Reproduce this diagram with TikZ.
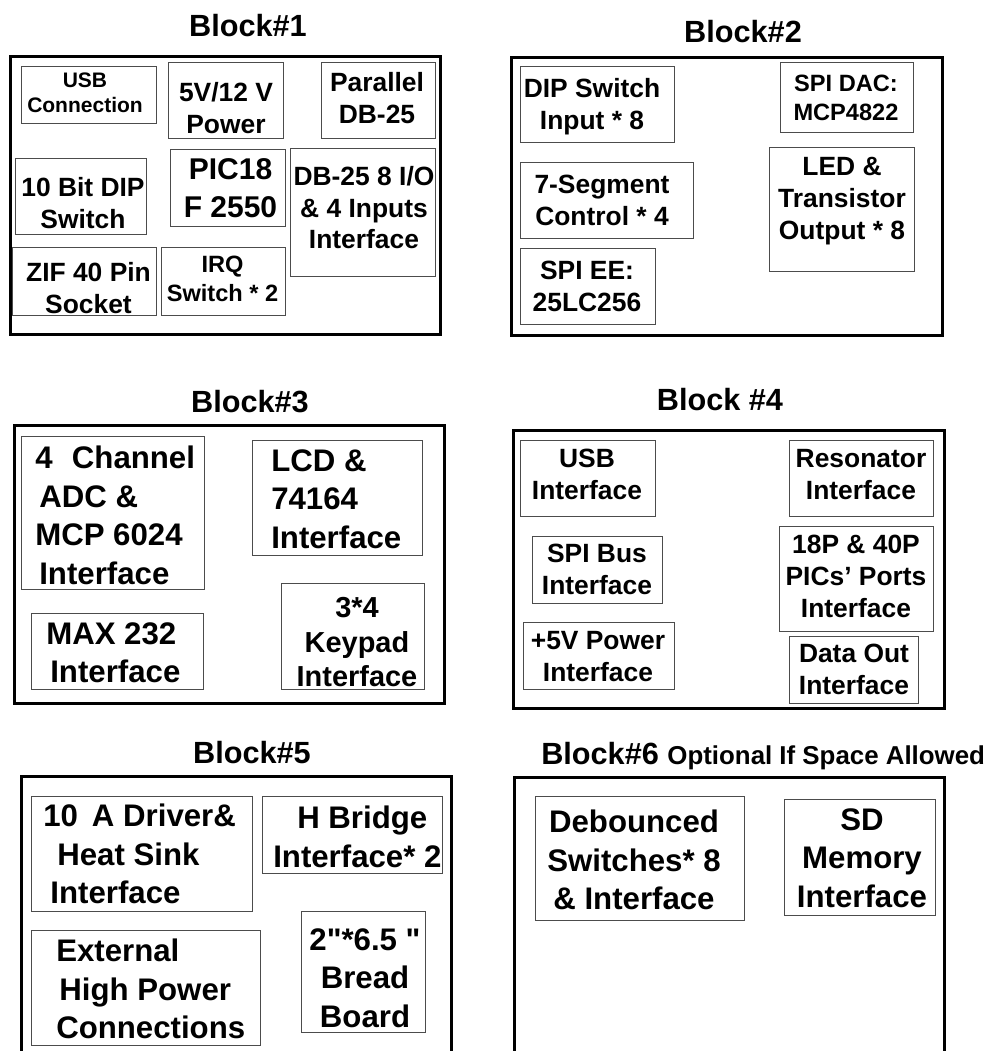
\documentclass[tikz,border=0pt]{standalone}
\usepackage{fontspec}
\setmainfont{Liberation Sans}[Ligatures=TeXOff]
\usetikzlibrary{fit}

\newcommand\partfontstd{\fontsize{19.8}{23.8}\selectfont\bfseries}
\newcommand\partfontbig{\fontsize{23.4}{28.9}\selectfont\bfseries}
\newcommand\partfontpic{\fontsize{22.5}{28.5}\selectfont\bfseries}
\newcommand\partfontsmall{\fontsize{17.7}{21.5}\selectfont\bfseries}
\newcommand\partfontusb{\fontsize{15.75}{18.75}\selectfont\bfseries}
\newcommand\partfontkey{\fontsize{21.7}{26}\selectfont\bfseries}

\tikzset{
  blockbox/.style={draw=black, line width=2.25pt, inner sep=0pt},
  partbox/.style={draw=black!70, line width=0.75pt, inner sep=0pt},
  parttext/.style={font=\partfontstd, align=center, inner sep=0pt, anchor=north},
  lefttext/.style={font=\partfontbig, align=left, inner sep=0pt, anchor=north west},
  blocktitle/.style={font=\fontsize{23}{27}\selectfont\bfseries, inner sep=0pt, anchor=north},
}

\begin{document}
\begin{tikzpicture}[x=0.75pt,y=-0.75pt]
\useasboundingbox (0,0) rectangle (992,1051);
\clip (0,0) rectangle (992,1051);

% Block 1
\node[blocktitle] (title1) at (248,14) {Block\#1};
\node[blockbox, fit={(10,56) (440,334)}] (block1) {};
\node[partbox, fit={(21,66) (156,123)}] (usbconn) {};
\node[parttext, font=\partfontusb] (usbconn-t) at (85,73) {USB\\Connection};
\node[partbox, fit={(168,62) (283,138)}] (power) {};
\node[parttext] (power-t) at (226,82) {5V/12 V\\Power};
\node[partbox, fit={(321,62) (435,138)}] (parallel) {};
\node[parttext] (parallel-t) at (377,72) {Parallel\\DB-25};
\node[partbox, fit={(15,158) (146,234)}] (dipten) {};
\node[parttext] (dipten-t) at (83,177) {10 Bit DIP\\Switch};
\node[partbox, fit={(170,149) (285,226)}] (pic) {};
\node[parttext, font=\partfontpic] (pic-t) at (230.5,158) {PIC18\\F 2550};
\node[partbox, fit={(290,148) (435,276)}] (dbio) {};
\node[parttext] (dbio-t) at (364,166) {DB-25 8 I/O\\\& 4 Inputs\\Interface};
\node[partbox, fit={(12,247) (156,315)}] (zif) {};
\node[parttext] (zif-t) at (88.5,262) {ZIF 40 Pin\\Socket};
\node[partbox, fit={(161,247) (285,315)}] (irq) {};
\node[parttext, font=\partfontsmall] (irq-t) at (222.5,256) {IRQ\\Switch * 2};

% Block 2
\node[blocktitle] (title2) at (743,20) {Block\#2};
\node[blockbox, fit={(511,57) (942,335)}] (block2) {};
\node[partbox, fit={(520,66) (674,142)}] (dipin) {};
\node[parttext] (dipin-t) at (592,78) {DIP Switch\\Input * 8};
\node[partbox, fit={(780,62) (913,132)}] (dac) {};
\node[parttext, font=\partfontsmall] (dac-t) at (846,75) {SPI DAC:\\MCP4822};
\node[partbox, fit={(520,162) (693,238)}] (seg) {};
\node[parttext] (seg-t) at (602,175) {7-Segment\\Control * 4};
\node[partbox, fit={(769,147) (914,271)}] (led) {};
\node[parttext] (led-t) at (842,157) {LED \&\\Transistor\\Output * 8};
\node[partbox, fit={(520,248) (655,324)}] (eeprom) {};
\node[parttext] (eeprom-t) at (587,261) {SPI EE:\\25LC256};

% Block 3
\node[blocktitle] (title3) at (250,390) {Block\#3};
\node[blockbox, fit={(14,425) (444,703)}] (block3) {};
\node[partbox, fit={(21,436) (204,589)}] (adc) {};
\node[lefttext] (adc-t) at (35,446) {4\hspace{0.62em}Channel\\\hspace{0.13em}ADC \&\\MCP 6024\\\hspace{0.13em}Interface};
\node[partbox, fit={(252,440) (422,555)}] (lcd) {};
\node[lefttext] (lcd-t) at (271,449) {LCD \&\\74164\\Interface};
\node[partbox, fit={(31,613) (203,689)}] (max) {};
\node[lefttext] (max-t) at (46,622) {MAX 232\\\hspace{0.13em}Interface};
\node[partbox, fit={(281,583) (424,689)}] (keypad) {};
\node[parttext, font=\partfontkey] (keypad-t) at (357,597) {3*4\\Keypad\\Interface};

% Block 4
\node[blocktitle] (title4) at (720,388) {Block \#4};
\node[blockbox, fit={(513,430) (944,708)}] (block4) {};
\node[partbox, fit={(520,440) (655,516)}] (usbif) {};
\node[parttext] (usbif-t) at (587,449) {USB\\Interface};
\node[partbox, fit={(789,440) (933,516)}] (reson) {};
\node[parttext] (reson-t) at (861,449) {Resonator\\Interface};
\node[partbox, fit={(532,536) (662,603)}] (spibus) {};
\node[parttext] (spibus-t) at (597,544) {SPI Bus\\Interface};
\node[partbox, fit={(779,526) (933,631)}] (ports) {};
\node[parttext] (ports-t) at (856,535) {18P \& 40P\\PICs’ Ports\\Interface};
\node[partbox, fit={(523,622) (674,689)}] (fivev) {};
\node[parttext] (fivev-t) at (598,631) {+5V Power\\Interface};
\node[partbox, fit={(789,636) (918,703)}] (dataout) {};
\node[parttext] (dataout-t) at (854,644) {Data Out\\Interface};

% Block 5
\node[blocktitle] (title5) at (252,741) {Block\#5};
\node[blockbox, fit={(21,776) (451,1065)}] (block5) {};
\node[partbox, fit={(31,796) (252,911)}] (driver) {};
\node[lefttext] (driver-t) at (43,804) {10\hspace{0.45em}A Driver\&\\\hspace{0.45em}Heat Sink\\\hspace{0.23em}Interface};
\node[partbox, fit={(262,796) (442,873)}] (hbridge) {};
\node[lefttext] (hbridge-t) at (273,806) {\hspace{0.77em}H Bridge\\Interface* 2};
\node[partbox, fit={(31,930) (260,1045)}] (extpow) {};
\node[lefttext] (extpow-t) at (56,939) {External\\\hspace{0.1em}High Power\\Connections};
\node[partbox, fit={(301,911) (425,1032)}] (bread) {};
\node[parttext, font=\partfontbig] (bread-t) at (365,928) {2"*6.5 "\\Bread\\Board};

% Block 6
\node[blocktitle, anchor=north west] (title6) at (541,742) {Block\#6 {\fontsize{19.4}{23}\selectfont Optional If Space Allowed}};
\node[blockbox, fit={(514,777) (944,1065)}] (block6) {};
\node[partbox, fit={(535,796) (744,920)}] (debounce) {};
\node[parttext, font=\partfontbig] (debounce-t) at (634,810) {Debounced\\Switches* 8\\\& Interface};
\node[partbox, fit={(784,799) (935,915)}] (sdmem) {};
\node[parttext, font=\partfontbig] (sdmem-t) at (862,808) {SD\\Memory\\Interface};
\end{tikzpicture}
\end{document}
